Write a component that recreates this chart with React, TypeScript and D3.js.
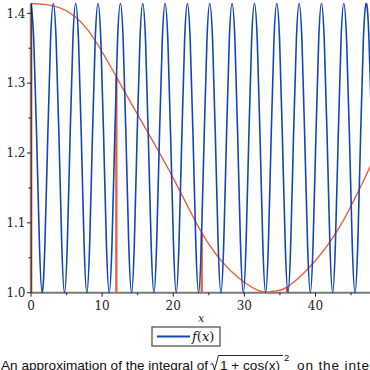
import React from 'react';
import * as d3 from 'd3';

// samples of f(x) = sqrt(1 + cos(x)^2)
const blueX = [
  0, 0.39, 0.79, 1.18, 1.57, 1.96, 2.36, 2.75,
  3.14, 3.53, 3.93, 4.32, 4.71, 5.11, 5.50, 5.89,
  6.28, 6.68, 7.07, 7.46, 7.85, 8.25, 8.64, 9.03,
  9.42, 9.82, 10.21, 10.60, 11.00, 11.39, 11.78, 12.17,
  12.57, 12.96, 13.35, 13.74, 14.14, 14.53, 14.92, 15.32,
  15.71, 16.10, 16.49, 16.89, 17.28, 17.67, 18.06, 18.46,
  18.85, 19.24, 19.63, 20.03, 20.42, 20.81, 21.21, 21.60,
  21.99, 22.38, 22.78, 23.17, 23.56, 23.95, 24.35, 24.74,
  25.13, 25.53, 25.92, 26.31, 26.70, 27.10, 27.49, 27.88,
  28.27, 28.67, 29.06, 29.45, 29.85, 30.24, 30.63, 31.02,
  31.42, 31.81, 32.20, 32.59, 32.99, 33.38, 33.77, 34.16,
  34.56, 34.95, 35.34, 35.74, 36.13, 36.52, 36.91, 37.31,
  37.70, 38.09, 38.48, 38.88, 39.27, 39.66, 40.06, 40.45,
  40.84, 41.23, 41.63, 42.02, 42.41, 42.80, 43.20, 43.59,
  43.98, 44.37, 44.77, 45.16, 45.55, 45.95, 46.34, 46.73,
  47.12, 47.52, 47.91, 48,
];
const blueY = [
  1.414, 1.362, 1.225, 1.071, 1.0, 1.071, 1.225, 1.362,
  1.414, 1.362, 1.225, 1.071, 1.0, 1.071, 1.225, 1.362,
  1.414, 1.362, 1.225, 1.071, 1.0, 1.071, 1.225, 1.362,
  1.414, 1.362, 1.225, 1.071, 1.0, 1.071, 1.225, 1.362,
  1.414, 1.362, 1.225, 1.071, 1.0, 1.071, 1.225, 1.362,
  1.414, 1.362, 1.225, 1.071, 1.0, 1.071, 1.225, 1.362,
  1.414, 1.362, 1.225, 1.071, 1.0, 1.071, 1.225, 1.362,
  1.414, 1.362, 1.225, 1.071, 1.0, 1.071, 1.225, 1.362,
  1.414, 1.362, 1.225, 1.071, 1.0, 1.071, 1.225, 1.362,
  1.414, 1.362, 1.225, 1.071, 1.0, 1.071, 1.225, 1.362,
  1.414, 1.362, 1.225, 1.071, 1.0, 1.071, 1.225, 1.362,
  1.414, 1.362, 1.225, 1.071, 1.0, 1.071, 1.225, 1.362,
  1.414, 1.362, 1.225, 1.071, 1.0, 1.071, 1.225, 1.362,
  1.414, 1.362, 1.225, 1.071, 1.0, 1.071, 1.225, 1.362,
  1.414, 1.362, 1.225, 1.071, 1.0, 1.071, 1.225, 1.362,
  1.414, 1.362, 1.225, 1.187,
];

// the approximating curve (red)
const redX = [0, 4, 8, 12, 16, 20, 24, 28, 32, 34, 36, 40, 44, 48];
const redY = [1.414, 1.408, 1.376, 1.309, 1.237, 1.164, 1.086, 1.032, 1.003, 1.002, 1.008, 1.046, 1.105, 1.187];

// sample points with their vertical lines
const sampleX = [0, 12, 24, 36];
const sampleY = [1.414, 1.309, 1.086, 1.008];

const xTicks = [0, 10, 20, 30, 40];
const xMinor = [5, 15, 25, 35, 45];
const yTicks = [1.0, 1.1, 1.2, 1.3, 1.4];
const yMinor = [1.05, 1.15, 1.25, 1.35];

const RED = '#ec6240';
const BLUE = '#1447b5';
const SERIF = '"DejaVu Serif", serif';
const SANS = '"Liberation Sans", Arial, sans-serif';

export default function App() {
  const x = d3.scaleLinear().domain([0, 40]).range([31, 315.5]);
  const y = d3.scaleLinear().domain([1.0, 1.4]).range([292.7, 13.3]);

  const line = d3.line<[number, number]>()
    .x(d => x(d[0]))
    .y(d => y(d[1]))
    .curve(d3.curveNatural);

  const blue = line(blueX.map((v, i) => [v, blueY[i]]) as [number, number][]) || '';
  const red = line(redX.map((v, i) => [v, redY[i]]) as [number, number][]) || '';

  const x0 = x(0);
  const yBase = y(1.0);

  return (
    <div style={{ position: 'fixed', left: 0, top: 0 }}>
      <svg width={370} height={370} style={{ display: 'block', background: '#fff' }}>
        <defs>
          <clipPath id="plot">
            <rect x={x0} y={0} width={370 - x0} height={yBase + 1} />
          </clipPath>
        </defs>

        {/* x axis line */}
        <line x1={x0} x2={370} y1={yBase} y2={yBase} stroke="#7a7a7a" strokeWidth={2} />

        <g clipPath="url(#plot)">
          <path d={red} fill="none" stroke={RED} strokeWidth={1.4} />
          {sampleX.map((v, i) => (
            <line key={i} x1={x(v)} x2={x(v)} y1={yBase} y2={y(sampleY[i])}
              stroke={RED} strokeWidth={2.4} />
          ))}
          <path d={blue} fill="none" stroke={BLUE} strokeWidth={1.6} />
        </g>

        {/* y axis line, over the red sample line at x = 0 */}
        <line x1={x0} x2={x0} y1={y(1.4142)} y2={yBase} stroke="#000" strokeOpacity={0.5} strokeWidth={2.4} />

        {/* x ticks */}
        {xTicks.map(t => (
          <g key={t}>
            <line x1={x(t)} x2={x(t)} y1={yBase} y2={yBase + 4} stroke="#222" strokeWidth={1} />
            <text x={x(t)} y={309.5} textAnchor="middle" fontFamily={SERIF} fontSize={12} fill="#222">{t}</text>
          </g>
        ))}
        {xMinor.map(t => (
          <line key={t} x1={x(t)} x2={x(t)} y1={yBase} y2={yBase + 2.5} stroke="#222" strokeWidth={1} />
        ))}

        {/* y ticks */}
        {yTicks.map(t => (
          <g key={t}>
            <line x1={x0 - 4} x2={x0} y1={y(t)} y2={y(t)} stroke="#222" strokeWidth={1} />
            <text x={25.5} y={y(t)} dy="0.36em" textAnchor="end" fontFamily={SERIF} fontSize={12} fill="#222">{t.toFixed(1)}</text>
          </g>
        ))}
        {yMinor.map(t => (
          <line key={t} x1={x0 - 2.5} x2={x0} y1={y(t)} y2={y(t)} stroke="#222" strokeWidth={1} />
        ))}

        {/* axis label */}
        <text x={201} y={322} textAnchor="middle" fontFamily={SERIF} fontStyle="italic" fontSize={11} fill="#222">x</text>

        {/* legend */}
        <rect x={152} y={327} width={68} height={19} fill="#fff" stroke="#555" strokeWidth={1.3} />
        <line x1={157} x2={190} y1={336.5} y2={336.5} stroke={BLUE} strokeWidth={2} />
        <text x={192} y={341} fontFamily={SERIF} fontSize={13} fill="#111">
          <tspan fontStyle="italic">f</tspan>(<tspan fontStyle="italic">x</tspan>)
        </text>

        {/* caption, cut by the bottom and right edges as in the source image */}
        <g fontFamily={SANS} fontSize={13.6} fill="#111">
          <text x={1} y={369.5}>An approximation of the integral of</text>
          <path d="M210.5,364.5 L212.5,363.5 L214.5,370 L218.5,355.5 L283,355.5" fill="none" stroke="#111" strokeWidth={0.9} />
          <text x={220} y={369.5}>1 + cos(x)</text>
          <text x={284} y={360.5} fontSize={9.5}>2</text>
          <text x={297} y={369.5} letterSpacing={0.85}>on the interval</text>
        </g>
      </svg>
    </div>
  );
}
